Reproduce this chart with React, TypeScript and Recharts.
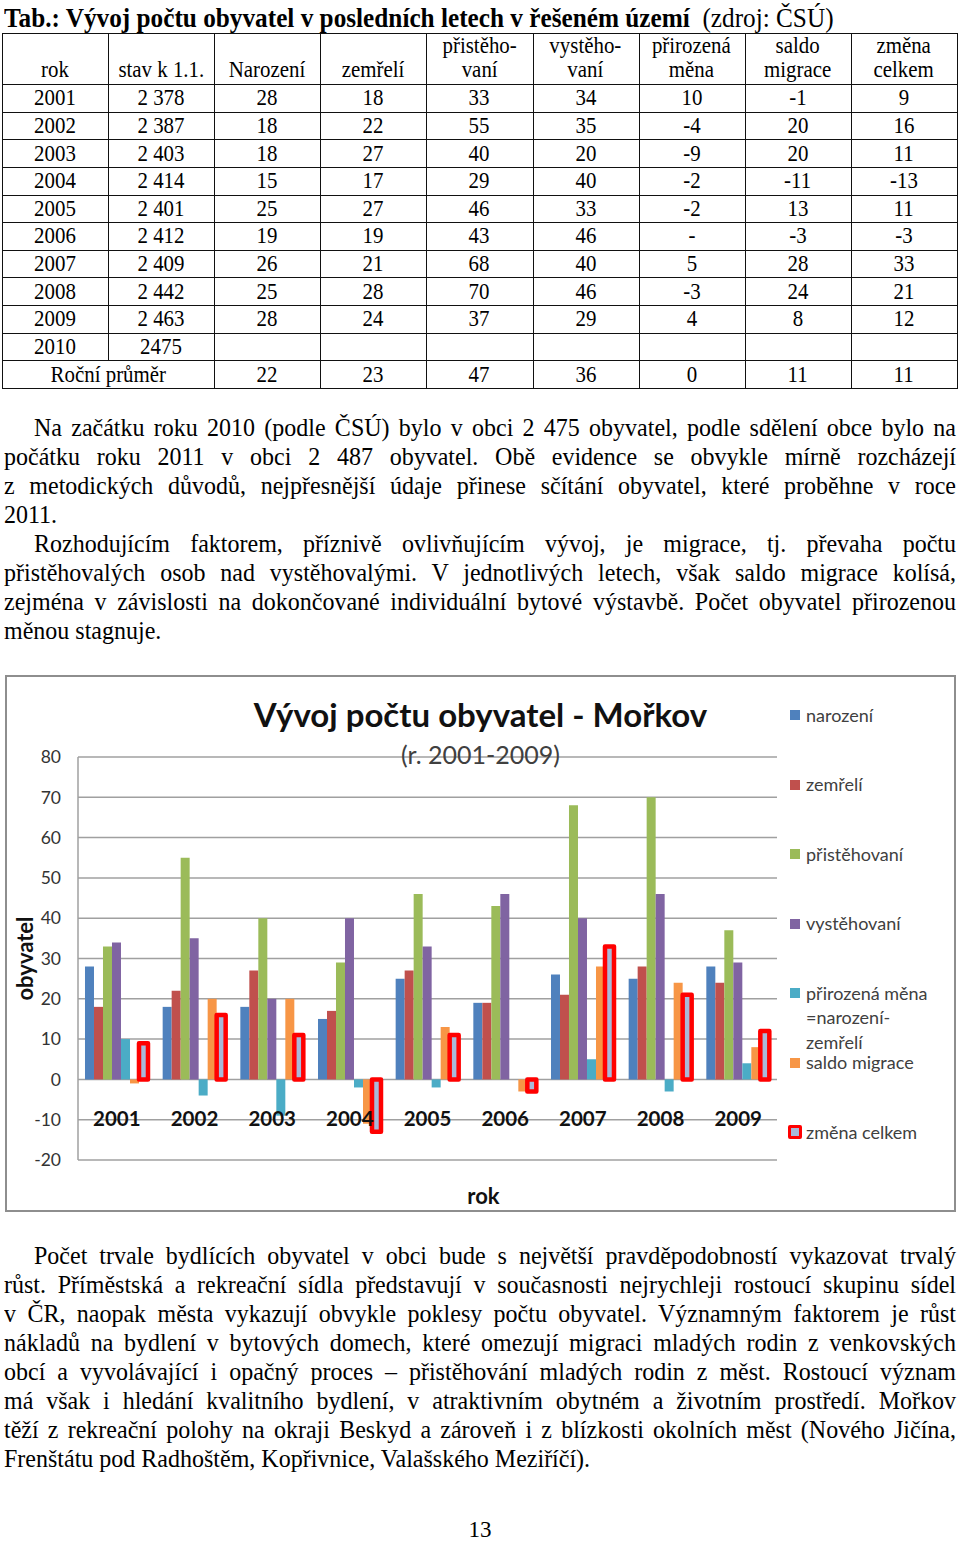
import React from "react";
import { BarChart, Bar, XAxis, YAxis, CartesianGrid, Label } from "recharts";

// data from the table (ČSÚ)
const years = ["2001", "2002", "2003", "2004", "2005", "2006", "2007", "2008", "2009"];
const stavK11 = ["2 378", "2 387", "2 403", "2 414", "2 401", "2 412", "2 409", "2 442", "2 463"];
const stav2010 = "2475";
const narozeni = [28, 18, 18, 15, 25, 19, 26, 25, 28];
const zemreli = [18, 22, 27, 17, 27, 19, 21, 28, 24];
const pristehovani = [33, 55, 40, 29, 46, 43, 68, 70, 37];
const vystehovani = [34, 35, 20, 40, 33, 46, 40, 46, 29];
const prirozenaMena = [10, -4, -9, -2, -2, 0, 5, -3, 4];
const saldoMigrace = [-1, 20, 20, -11, 13, -3, 28, 24, 8];
const zmenaCelkem = [9, 16, 11, -13, 11, -3, 33, 21, 12];
const rocniPrumer = [22, 23, 47, 36, 0, 11, 11];
const yTicks = [-20, -10, 0, 10, 20, 30, 40, 50, 60, 70, 80];

const tableHeader = [
  ["rok"], ["stav k 1.1."], ["Narození"], ["zemřelí"], ["přistěho-", "vaní"],
  ["vystěho-", "vaní"], ["přirozená", "měna"], ["saldo", "migrace"], ["změna", "celkem"],
];

const series = [
  { key: "narozeni", label: ["narození"], color: "#4F81BD", values: narozeni },
  { key: "zemreli", label: ["zemřelí"], color: "#C0504D", values: zemreli },
  { key: "pristehovani", label: ["přistěhovaní"], color: "#9BBB59", values: pristehovani },
  { key: "vystehovani", label: ["vystěhovaní"], color: "#8064A2", values: vystehovani },
  { key: "prirozena", label: ["přirozená měna", "=narození-", "zemřelí"], color: "#4BACC6", values: prirozenaMena },
  { key: "saldo", label: ["saldo migrace"], color: "#F79646", values: saldoMigrace },
  { key: "zmena", label: ["změna celkem"], color: "#FF0000", values: zmenaCelkem, outline: true },
];

const para1 = [
  "Na začátku roku 2010 (podle ČSÚ) bylo v obci 2 475 obyvatel, podle sdělení obce bylo na",
  "počátku roku 2011 v obci 2 487 obyvatel. Obě evidence se obvykle mírně rozcházejí",
  "z metodických důvodů, nejpřesnější údaje přinese sčítání obyvatel, které proběhne v roce",
  "2011.",
  "Rozhodujícím faktorem, příznivě ovlivňujícím vývoj, je migrace, tj. převaha počtu",
  "přistěhovalých osob nad vystěhovalými. V jednotlivých letech, však saldo migrace kolísá,",
  "zejména v závislosti na dokončované individuální bytové výstavbě. Počet obyvatel přirozenou",
  "měnou stagnuje.",
];
const para1Indent = [0, 4];
const para1Last = [3, 7];

const para2 = [
  "Počet trvale bydlících obyvatel v obci bude s největší pravděpodobností vykazovat trvalý",
  "růst. Příměstská a rekreační sídla představují v současnosti nejrychleji rostoucí skupinu sídel",
  "v ČR, naopak města vykazují obvykle poklesy počtu obyvatel. Významným faktorem je růst",
  "nákladů na bydlení v bytových domech, které omezují migraci mladých rodin z venkovských",
  "obcí a vyvolávající i opačný proces – přistěhování mladých rodin z měst. Rostoucí význam",
  "má však i hledání kvalitního bydlení, v atraktivním obytném a životním prostředí. Mořkov",
  "těží z rekreační polohy na okraji Beskyd a zároveň i z blízkosti okolních měst (Nového Jičína,",
  "Frenštátu pod Radhoštěm, Kopřivnice, Valašského Meziříčí).",
];

const SX_TEXT = 0.96;  // body text slightly squeezed
const SX_TABLE = 0.87; // table text squeezed more
const SX_TITLE = 0.935;
const SERIF = "'Liberation Serif', 'Times New Roman', serif";
const SANS = "Lato, 'Open Sans', sans-serif";

const chartData = years.map((year, i) => {
  const row: Record<string, any> = { year };
  series.forEach((s) => (row[s.key] = s.values[i]));
  return row;
});

function TextLine({ top, text, indent, last }: { top: number; text: string; indent?: boolean; last?: boolean }) {
  const left = indent ? 34 : 4;
  const w = 956 - left;
  return (
    <div
      style={{
        position: "absolute", left, top, width: w / SX_TEXT, transform: `scaleX(${SX_TEXT})`, transformOrigin: "0 0",
        fontSize: 25, lineHeight: "30px", whiteSpace: "nowrap", wordSpacing: last ? 0 : -1.5,
        textAlign: last ? "left" : "justify", textAlignLast: last ? "left" : "justify",
      }}
    >
      {text}
    </div>
  );
}

function Squeeze({ children, sx = SX_TABLE }: { children: React.ReactNode; sx?: number }) {
  return (
    <span style={{ display: "inline-block", transform: `scaleX(${sx})`, whiteSpace: "nowrap", textAlign: "center" }}>
      {children}
    </span>
  );
}

function Table() {
  const left = 2, right = 957, top = 33, headH = 51, bottom = 388;
  const nCols = 9;
  const colW = (right - left) / nCols;
  const colX = Array.from({ length: nCols + 1 }, (_, i) => left + i * colW);
  const bodyRows: (string | number)[][] = years.map((y, i) => [
    y, stavK11[i], narozeni[i], zemreli[i], pristehovani[i], vystehovani[i],
    prirozenaMena[i] === 0 ? "-" : prirozenaMena[i], saldoMigrace[i], zmenaCelkem[i],
  ]);
  bodyRows.push(["2010", stav2010, "", "", "", "", "", "", ""]);
  const nRows = bodyRows.length + 1;
  const rowH = (bottom - top - headH) / nRows;
  const rowY = Array.from({ length: nRows + 1 }, (_, i) => top + headH + i * rowH);
  const lineColor = "#111";
  const fs = 24;
  const cells: React.ReactNode[] = [];

  tableHeader.forEach((lines, c) => {
    cells.push(
      <div key={`h${c}`} style={{
        position: "absolute", left: colX[c], top, width: colW, height: headH,
        display: "flex", alignItems: "flex-end", justifyContent: "center", paddingBottom: 3, boxSizing: "border-box",
        fontSize: fs, lineHeight: "24px",
      }}>
        <Squeeze>{lines.map((l, k) => <div key={k}>{l}</div>)}</Squeeze>
      </div>
    );
  });
  bodyRows.forEach((row, r) => {
    row.forEach((v, c) => {
      cells.push(
        <div key={`c${r}-${c}`} style={{
          position: "absolute", left: colX[c], top: rowY[r], width: colW, height: rowH,
          display: "flex", alignItems: "center", justifyContent: "center", fontSize: fs,
        }}>
          <Squeeze>{v}</Squeeze>
        </div>
      );
    });
  });
  const lastR = nRows - 1;
  cells.push(
    <div key="avg" style={{
      position: "absolute", left: colX[0], top: rowY[lastR], width: colW * 2, height: rowH,
      display: "flex", alignItems: "center", justifyContent: "center", fontSize: fs,
    }}>
      <Squeeze>Roční průměr</Squeeze>
    </div>
  );
  rocniPrumer.forEach((v, k) => {
    cells.push(
      <div key={`a${k}`} style={{
        position: "absolute", left: colX[k + 2], top: rowY[lastR], width: colW, height: rowH,
        display: "flex", alignItems: "center", justifyContent: "center", fontSize: fs,
      }}>
        <Squeeze>{v}</Squeeze>
      </div>
    );
  });

  // grid lines
  const hLines = [top, ...rowY];
  hLines.forEach((y, i) => {
    cells.push(<div key={`hl${i}`} style={{ position: "absolute", left, top: Math.round(y), width: right - left + 1, height: 1, background: lineColor }} />);
  });
  colX.forEach((x, i) => {
    const yEnd = i === 1 ? rowY[lastR] : bottom;
    cells.push(<div key={`vl${i}`} style={{ position: "absolute", left: Math.round(x), top, width: 1, height: yEnd - top + 1, background: lineColor }} />);
  });
  return <>{cells}</>;
}

function YearTick(props: any) {
  const { x, y, payload } = props;
  return (
    <text x={x} y={y - 42} textAnchor="middle" dominantBaseline="central"
      fontFamily={SANS} fontWeight={700} fontSize={20.5} fill="#111">
      {payload.value}
    </text>
  );
}

function ChartLegend() {
  return (
    <div style={{ position: "absolute", left: 785, top: 0, fontFamily: SANS, fontSize: 18, color: "#404040" }}>
      {series.map((s, i) => {
        const cy = 40 + i * 69.5;
        return (
          <div key={s.key} style={{ position: "absolute", top: cy - 12.25, left: 0, width: 170 }}>
            {s.outline ? (
              <div style={{ position: "absolute", left: -2, top: 5, width: 14, height: 14, boxSizing: "border-box", border: "3px solid #FF0000", borderRadius: 2, background: "#A9B9D9" }} />
            ) : (
              <div style={{ position: "absolute", left: 0, top: 7.25, width: 10, height: 10, background: s.color }} />
            )}
            <div style={{ position: "absolute", left: 16, top: 0, lineHeight: "24.5px", whiteSpace: "nowrap" }}>
              {s.label.map((l, k) => <div key={k}>{l}</div>)}
            </div>
          </div>
        );
      })}
    </div>
  );
}

function PopulationChart() {
  const W = 951, H = 537;
  return (
    <div style={{ position: "absolute", left: 5, top: 675, width: W, height: H, background: "#fff" }}>
      <BarChart width={W} height={H} data={chartData}
        margin={{ top: 82, right: 179, bottom: 22, left: 0 }}
        barCategoryGap="9%" barGap={0}>
        <CartesianGrid vertical={false} stroke="#A0A0A0" strokeWidth={1.5} />
        <XAxis dataKey="year" height={30} interval={0} axisLine={false} tickLine={false}
          tickSize={0} tickMargin={0} tick={(p: any) => <YearTick {...p} />}>
          <Label content={(p: any) => {
            const vb = p.viewBox || { x: 73, y: 485, width: 699 };
            return (
              <text x={vb.x + vb.width / 2 + 56} y={vb.y + 35} textAnchor="middle" dominantBaseline="central"
                fontFamily={SANS} fontWeight={700} fontSize={22} fill="#111">rok</text>
            );
          }} />
        </XAxis>
        <YAxis width={73} domain={[-20, 80]} ticks={yTicks} allowDataOverflow interval={0}
          axisLine={{ stroke: "#A0A0A0", strokeWidth: 1.5 }} tickLine={false} tickSize={0} tickMargin={17}
          tick={{ fontFamily: SANS, fontSize: 17.5, fill: "#333" }}>
          <Label content={(p: any) => {
            const vb = p.viewBox || { x: 0, y: 82, height: 403 };
            const cx = vb.x + 19, cy = vb.y + vb.height / 2;
            return (
              <text x={cx} y={cy} transform={`rotate(-90, ${cx}, ${cy})`} textAnchor="middle" dominantBaseline="central"
                fontFamily={SANS} fontWeight={700} fontSize={22} fill="#111">obyvatel</text>
            );
          }} />
        </YAxis>
        {series.map((s) => (
          <Bar key={s.key} dataKey={s.key} isAnimationActive={false}
            fill={s.outline ? "#A9B9D9" : s.color}
            stroke={s.outline ? "#FF0000" : "none"}
            strokeWidth={s.outline ? 4.5 : 0}
            strokeLinejoin="round" />
        ))}
      </BarChart>
      <div style={{ position: "absolute", left: 0, top: 39, width: W, textAlign: "center", transform: "translateY(-50%)",
        fontFamily: SANS, fontWeight: 700, fontSize: 33, color: "#111", lineHeight: "40px" }}>
        Vývoj počtu obyvatel - Mořkov
      </div>
      <div style={{ position: "absolute", left: 0, top: 79, width: W, textAlign: "center", transform: "translateY(-50%)",
        fontFamily: SANS, fontSize: 25, color: "#404040", lineHeight: "30px" }}>
        (r. 2001-2009)
      </div>
      <ChartLegend />
      <div style={{ position: "absolute", left: 0, top: 0, width: W, height: H, boxSizing: "border-box", border: "2px solid #8E8E8E", pointerEvents: "none" }} />
    </div>
  );
}

export default function App() {
  return (
    <div style={{ position: "relative", width: 960, height: 1545, background: "#fff", fontFamily: SERIF, color: "#000", overflow: "hidden" }}>
      <style>{"body{margin:0}"}</style>
      <div style={{ position: "absolute", left: 4, top: 3, transform: `scaleX(${SX_TITLE})`, transformOrigin: "0 0", whiteSpace: "nowrap", fontSize: 27, lineHeight: "30px" }}>
        <b>Tab.: Vývoj počtu obyvatel v posledních letech v řešeném území</b>
        <span>{"\u00a0 (zdroj: ČSÚ)"}</span>
      </div>
      <Table />
      {para1.map((t, i) => (
        <TextLine key={`p1${i}`} top={413 + i * 29} text={t} indent={para1Indent.includes(i)} last={para1Last.includes(i)} />
      ))}
      <PopulationChart />
      {para2.map((t, i) => (
        <TextLine key={`p2${i}`} top={1241 + i * 29} text={t} indent={i === 0} last={i === para2.length - 1} />
      ))}
      <div style={{ position: "absolute", left: 0, top: 1518, width: 960, textAlign: "center", fontSize: 24, lineHeight: "22px" }}>
        <Squeeze sx={SX_TEXT}>13</Squeeze>
      </div>
    </div>
  );
}
